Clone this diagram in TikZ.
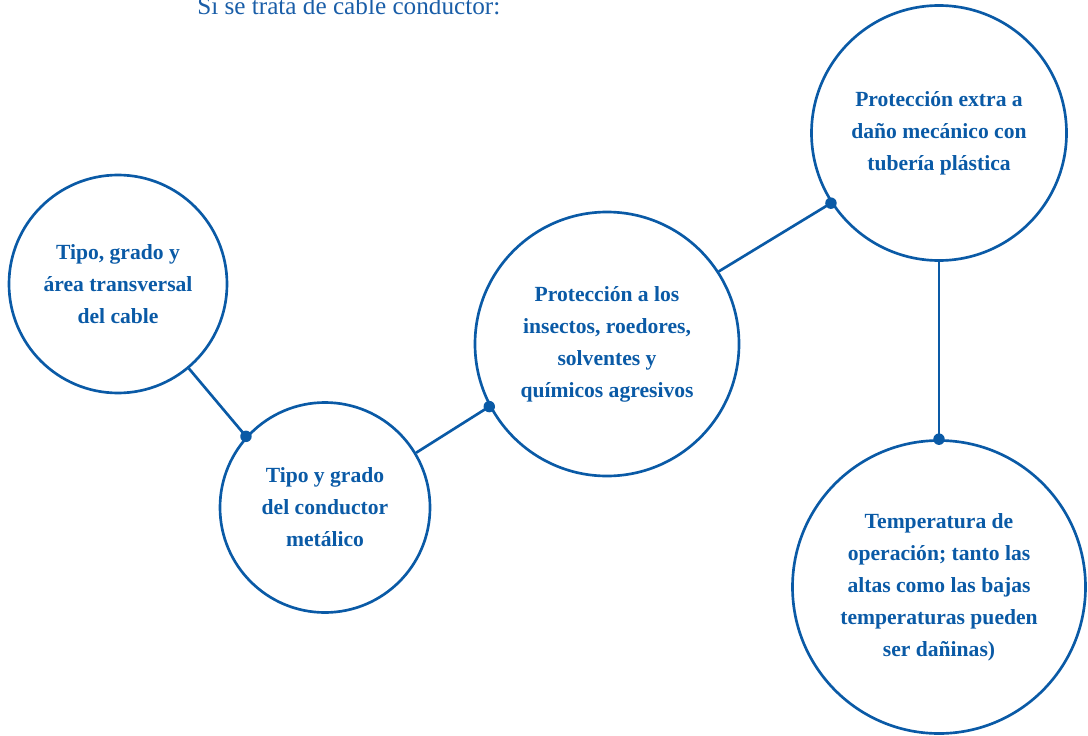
\documentclass[tikz,border=0pt]{standalone}
\usepackage{fontspec}
\setmainfont{Liberation Serif}
\definecolor{cblue}{HTML}{0A5AA6}
\definecolor{tblue}{HTML}{1A5EA8}
\begin{document}
\begin{tikzpicture}[x=0.75pt,y=-0.75pt,
  circ/.style={circle,draw=cblue,line width=2pt,inner sep=0pt,align=center,text=cblue,
    font=\fontsize{16.2}{24}\selectfont\bfseries},
  conn/.style={draw=cblue,line width=2pt},
  dotc/.style={fill=cblue}]
\useasboundingbox (0,0) rectangle (1088,735);
\node[anchor=base west,text=tblue,font=\fontsize{18.9}{22}\selectfont,inner sep=0pt] (title) at (197,15) {Si se trata de cable conductor:};
\node[circ,minimum size=163.5pt] (c1) at (118,284) {Tipo, grado y\\área transversal\\del cable};
\node[circ,minimum size=157.5pt] (c2) at (325,507.5) {Tipo y grado\\del conductor\\metálico};
\node[circ,minimum size=198pt] (c3) at (607,344) {Protección a los\\insectos, roedores,\\solventes y\\químicos agresivos};
\node[circ,minimum size=191.25pt] (c4) at (939,133) {Protección extra a\\daño mecánico con\\tubería plástica};
\node[circ,minimum size=219.75pt] (c5) at (939,587) {Temperatura de\\operación; tanto las\\altas como las bajas\\temperaturas pueden\\ser dañinas)};
\draw[conn] (c1.-50.2) -- (c2.138.7);
\fill[dotc] (c2.138.7) circle[radius=4.3pt];
\draw[conn] (c2.31.2) -- (c3.208.9);
\fill[dotc] (c3.208.9) circle[radius=4.3pt];
\draw[conn] (c3.33.3) -- (c4.213.6);
\fill[dotc] (c4.213.6) circle[radius=4.3pt];
\draw[conn] (c4.270) -- (c5.90);
\fill[dotc] (c5.90) circle[radius=4.3pt];
\end{tikzpicture}
\end{document}
